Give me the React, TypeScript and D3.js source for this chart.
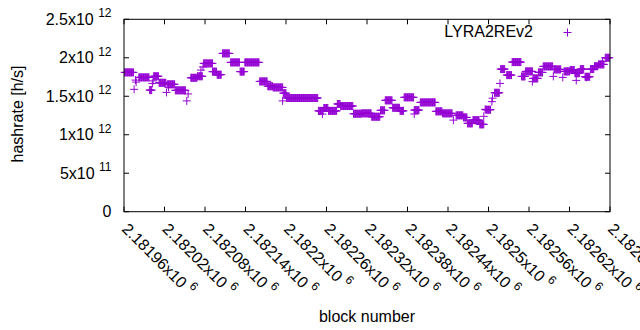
import * as d3 from "d3";

// runs of consecutive blocks that report the same hashrate (block offset from 2181960, hashrate in 1e12 h/s)
const runStart = [1, 22, 38, 44, 52, 64, 76, 99, 109, 118, 131, 138, 146, 158, 172, 179, 201, 213, 221, 236, 241, 288, 296, 303, 316, 321, 340, 352, 367, 380, 387, 398, 409, 415, 430, 439, 462, 472, 492, 503, 509, 517, 527, 536, 549, 558, 567, 575, 589, 595, 606, 614, 621, 637, 652, 661, 668, 676, 683, 691, 697, 703, 713];
const runEnd = [14, 37, 41, 51, 62, 75, 91, 108, 116, 131, 137, 144, 156, 171, 178, 200, 212, 220, 235, 240, 287, 295, 302, 315, 320, 339, 351, 366, 379, 386, 397, 408, 414, 429, 437, 461, 471, 486, 502, 508, 516, 526, 533, 543, 556, 564, 574, 588, 594, 605, 613, 620, 635, 647, 660, 667, 675, 681, 690, 696, 702, 711, 719];
const runHashrate = [1.81, 1.745, 1.58, 1.76, 1.675, 1.655, 1.577, 1.74, 1.76, 1.927, 1.82, 1.78, 2.057, 1.94, 1.82, 1.94, 1.693, 1.63, 1.615, 1.54, 1.477, 1.31, 1.347, 1.31, 1.4, 1.373, 1.273, 1.278, 1.234, 1.317, 1.447, 1.35, 1.31, 1.486, 1.32, 1.42, 1.304, 1.278, 1.252, 1.225, 1.148, 1.19, 1.135, 1.325, 1.545, 1.853, 1.775, 1.944, 1.758, 1.823, 1.732, 1.81, 1.888, 1.849, 1.823, 1.84, 1.8, 1.853, 1.753, 1.853, 1.89, 1.914, 2.0];

// single blocks off their run
const loneBlock = [15, 17, 18, 42, 43, 63, 66, 93, 95, 114, 117, 235, 294, 430, 488, 533, 535, 545, 546, 557, 605, 636, 650, 670, 685, 709];
const loneHashrate = [1.59, 1.71, 1.684, 1.667, 1.70, 1.55, 1.615, 1.44, 1.53, 1.84, 1.88, 1.44, 1.269, 1.269, 1.19, 1.239, 1.33, 1.43, 1.475, 1.667, 1.69, 1.758, 1.745, 1.706, 1.745, 1.95];

const blockBase = 2181960;
const xTicks = [2181960, 2182020, 2182080, 2182140, 2182200, 2182260, 2182320, 2182380, 2182440, 2182500, 2182560, 2182620, 2182680];
const xTickMantissa = ["2.18196", "2.18202", "2.18208", "2.18214", "2.1822", "2.18226", "2.18232", "2.18238", "2.18244", "2.1825", "2.18256", "2.18262", "2.18268"];
const yTicks = [0, 5e11, 1e12, 1.5e12, 2e12, 2.5e12];
const yTickMantissa = ["0", "5", "1", "1.5", "2", "2.5"];
const yTickExp = ["", "11", "12", "12", "12", "12"];

const seriesName = "LYRA2REv2";
const color = "#9400d3";
const font = "'Liberation Sans', Arial, sans-serif";

const App = () => {
    const width = 640;
    const height = 330;
    const marginLeft = 124;
    const marginRight = 30;
    const marginTop = 19.3;
    const marginBottom = 118.3;

    const x = d3.scaleLinear().domain([blockBase, blockBase + 720]).range([marginLeft, width - marginRight]);
    const y = d3.scaleLinear().domain([0, 2.5e12]).range([height - marginBottom, marginTop]);

    const points: Array<{ b: number, v: number }> = [];
    runStart.forEach((s, i) => {
        for (let b = s; b <= runEnd[i]; b++) points.push({ b: blockBase + b, v: runHashrate[i] * 1e12 });
    });
    loneBlock.forEach((b, i) => points.push({ b: blockBase + b, v: loneHashrate[i] * 1e12 }));

    const ps = 4;
    const plus = (cx: number, cy: number) => `M${cx - ps},${cy}h${2 * ps}M${cx},${cy - ps}v${2 * ps}`;
    const d = points.map(p => plus(x(p.b), y(p.v))).join("");

    const x0 = marginLeft, x1 = width - marginRight, y0 = height - marginBottom, y1 = marginTop;
    const tl = 5;

    return (
        <svg width={width} height={height} style={{ position: 'absolute', left: 0, top: 0, background: '#fff' }} fontFamily={font}>
            <rect width={width} height={height} fill="#fff" />
            <g stroke="#000" strokeWidth={1}>
                { xTicks.map((t, i) => (
                    <g key={i}>
                        <line x1={x(t)} x2={x(t)} y1={y0} y2={y0 - tl} />
                        <line x1={x(t)} x2={x(t)} y1={y1} y2={y1 + tl} />
                    </g>
                )) }
                { yTicks.map((t, i) => (
                    <g key={i}>
                        <line x1={x0} x2={x0 + tl} y1={y(t)} y2={y(t)} />
                        <line x1={x1} x2={x1 - tl} y1={y(t)} y2={y(t)} />
                    </g>
                )) }
            </g>
            <g fontSize={16} fill="#000">
                { yTicks.map((t, i) => (
                    <text key={i} x={111.5} y={y(t)} textAnchor="end" dominantBaseline="central">
                        {yTickExp[i] ? `${yTickMantissa[i]}x10 ` : yTickMantissa[i]}
                        {yTickExp[i] && <tspan fontSize={12} dy={-6}>{yTickExp[i]}</tspan>}
                    </text>
                )) }
                { xTicks.map((t, i) => (
                    <text key={i} transform={`translate(${x(t) + 1},226) rotate(45)`} dominantBaseline="central">
                        {`${xTickMantissa[i]}x10 `}
                        <tspan fontSize={12} dy={-6}>6</tspan>
                    </text>
                )) }
                <text transform="translate(22.5,114) rotate(-90)" textAnchor="middle">hashrate [h/s]</text>
                <text x={(x0 + x1) / 2} y={322} textAnchor="middle">block number</text>
                <text x={533} y={37} textAnchor="end">{seriesName}</text>
            </g>
            <path d={plus(567.5, 32.5)} stroke={color} strokeWidth={1} fill="none" />
            <path d={d} stroke={color} strokeWidth={1} fill="none" />
            <rect x={x0} y={y1} width={x1 - x0} height={y0 - y1} fill="none" stroke="#000" strokeWidth={1} />
        </svg>
    );
};

export default App;
